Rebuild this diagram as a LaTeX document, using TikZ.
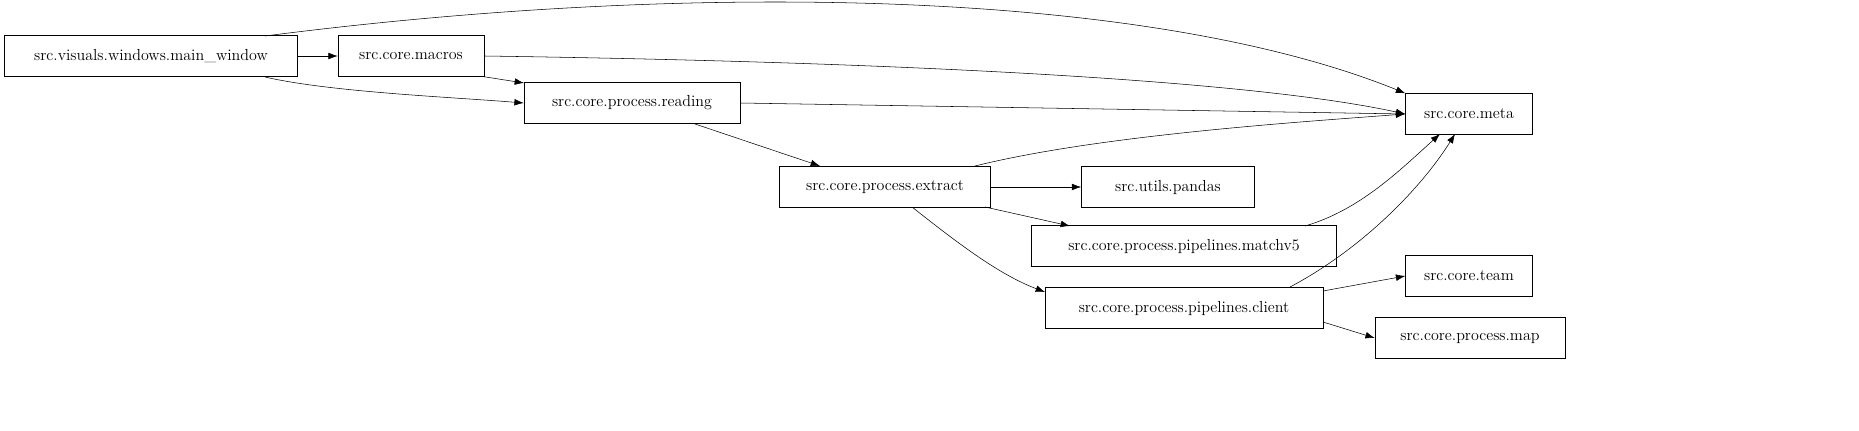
\documentclass[tikz,border=0pt]{standalone}
\usetikzlibrary{arrows.meta}
\begin{document}
\begin{tikzpicture}[x=0.75pt,y=-0.75pt,
  mod/.style={draw,rectangle,minimum height=30.75pt,inner sep=0pt,font=\fontsize{12}{14}\selectfont},
  dep/.style={-{Latex[length=7pt,width=5pt]}}]
\path[use as bounding box] (0,0) rectangle (1859,431);
\node[mod,minimum width=219.75pt] (win) at (151,56) {src.visuals.windows.main\_window};
\node[mod,minimum width=109.5pt] (macros) at (411,56) {src.core.macros};
\node[mod,minimum width=162pt] (reading) at (632,103) {src.core.process.reading};
\node[mod,minimum width=95.25pt] (meta) at (1469,114) {src.core.meta};
\node[mod,minimum width=158.25pt] (extract) at (885,187) {src.core.process.extract};
\node[mod,minimum width=129.75pt] (pandas) at (1168,187) {src.utils.pandas};
\node[mod,minimum width=228.75pt] (matchv5) at (1184,246) {src.core.process.pipelines.matchv5};
\node[mod,minimum width=95.25pt] (team) at (1469,276) {src.core.team};
\node[mod,minimum width=208.5pt] (client) at (1184,308) {src.core.process.pipelines.client};
\node[mod,minimum width=142.5pt] (map) at (1470,338) {src.core.process.map};
% edges
\draw[dep] (265,36) .. controls (700,-20) and (1150,-10) .. (meta.north west);
\draw[dep] (win) -- (macros);
\draw[dep] (macros.east) .. controls (900,62) and (1250,80) .. (meta.west);
\draw[dep] (macros.south east) -- (524,83);
\draw[dep] (265,77) .. controls (330,92) and (450,97) .. (reading.west);
\draw[dep] (reading.east) -- (meta.west);
\draw[dep] (695,124) -- (820,166);
\draw[dep] (975,166) .. controls (1100,135) and (1300,122) .. (meta.west);
\draw[dep] (extract) -- (pandas);
\draw[dep] (985,207) -- (1070,226);
\draw[dep] (912,207) .. controls (960,245) and (1000,275) .. (1045,292);
\draw[dep] (1305,226) .. controls (1360,210) and (1400,170) .. (1440,134);
\draw[dep] (1290,287) .. controls (1360,250) and (1420,190) .. (1455,134);
\draw[dep] (1323,291) -- (team.west);
\draw[dep] (1323,322) -- (map.west);
\end{tikzpicture}
\end{document}
